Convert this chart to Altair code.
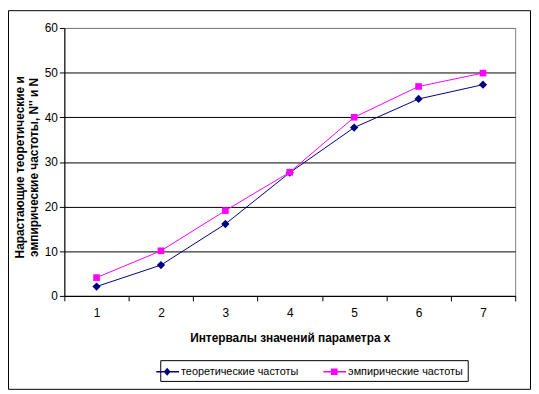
import altair as alt
import pandas as pd

intervals = ["1", "2", "3", "4", "5", "6", "7"]
theoretical = [2.1, 6.9, 16.1, 27.6, 37.7, 44.1, 47.3]
empirical = [4.1, 10.1, 19.1, 27.7, 40.0, 46.9, 49.9]
series_names = ["теоретические частоты", "эмпирические частоты"]
series_colors = ["#000080", "#FF00FF"]
y_ticks = [0, 10, 20, 30, 40, 50, 60]

rows = []
for name, vals in zip(series_names, [theoretical, empirical]):
    for x, v in zip(intervals, vals):
        rows.append({"x": x, "value": v, "series": name})
df = pd.DataFrame(rows)

W, H = 456, 271
PAD = {"left": 57, "top": 18, "right": 16, "bottom": 95}
FONT = "Liberation Sans"

x_enc = alt.X(
    "x:O",
    sort=intervals,
    bandPosition=0.5,
    scale=alt.Scale(type="band", paddingInner=0, paddingOuter=0),
    axis=alt.Axis(
        title="Интервалы значений параметра x",
        labelAngle=0,
        tickBand="extent",
        tickSize=5,
        labelPadding=7,
        titlePadding=14,
        titleFontWeight="bold",
        titleFontSize=12,
        domainColor="black",
        tickColor="black",
        grid=False,
    ),
)
y_enc = alt.Y(
    "value:Q",
    scale=alt.Scale(domain=[0, 60], nice=False),
    axis=alt.Axis(
        values=y_ticks,
        title=["Нарастающие теоретические и", "эмпирические частоты, N'' и N"],
        titleFontWeight="bold",
        titleFontSize=12,
        titleAngle=-90,
        titleX=-45,
        titleY=H / 2 + 5,
        titleAlign="center",
        titleBaseline="middle",
        titleLineHeight=14,
        tickSize=5,
        labelPadding=2,
        domainColor="black",
        tickColor="black",
        grid=True,
        gridColor={"condition": {"test": "datum.value >= 60", "value": "#808080"}, "value": "black"},
        gridWidth=1,
    ),
)
color_enc = alt.Color(
    "series:N",
    scale=alt.Scale(domain=series_names, range=series_colors),
    legend=None,
)

base = alt.Chart(df)
lines = base.mark_line(strokeWidth=1).encode(x=x_enc, y=y_enc, color=color_enc, detail="series:N")
points = base.mark_point(filled=True, opacity=1).encode(
    x=x_enc,
    y=y_enc,
    color=color_enc,
    shape=alt.Shape("series:N", scale=alt.Scale(domain=series_names, range=["diamond", "square"]), legend=None),
    size=alt.Size("series:N", scale=alt.Scale(domain=series_names, range=[70, 45]), legend=None),
)

# legend glyphs: invisible spacer point, thin filled bar (line), marker
legend_paths = [
    "M-3.13,0L-3.13,0Z"
    "M-2.07,-0.09L1,-0.09L1,0.09L-2.07,0.09Z"
    "M-0.6,-0.55L-0.13,0L-0.6,0.55L-1.07,0Z",
    "M-3.13,0L-3.13,0Z"
    "M-2.07,-0.09L1,-0.09L1,0.09L-2.07,0.09Z"
    "M-1.05,-0.45L-0.15,-0.45L-0.15,0.45L-1.05,0.45Z",
]
leg = alt.Legend(title=None)
legend_layer = base.mark_point(filled=True, size=225, opacity=1).encode(
    color=alt.Color("series:N", scale=alt.Scale(domain=series_names, range=series_colors), title=None, legend=leg),
    shape=alt.Shape("series:N", scale=alt.Scale(domain=series_names, range=legend_paths), title=None, legend=leg),
).transform_filter("false")

frame = alt.Chart(pd.DataFrame({"f": [0]})).mark_rect(fill=None, stroke="black", strokeWidth=1).encode(
    x=alt.value(-PAD["left"] + 0.5),
    x2=alt.value(W + PAD["right"] - 0.5),
    y=alt.value(-PAD["top"] + 0.5),
    y2=alt.value(H + PAD["bottom"] - 0.5),
)

chart = (
    alt.layer(frame, lines, points, legend_layer)
    .resolve_scale(shape="independent", size="independent", color="independent")
    .properties(width=W, height=H, padding=PAD, autosize=alt.AutoSizeParams(type="none"), background="white")
    .configure_view(stroke="#808080", strokeWidth=1)
    .configure_axis(labelFont=FONT, titleFont=FONT, labelFontSize=12, labelColor="black", titleColor="black")
    .configure_legend(
        orient="none", legendX=97, legendY=336, direction="horizontal",
        strokeColor="black", fillColor="white", padding=4,
        columnPadding=17, labelOffset=2, symbolSize=225,
        labelFontSize=11, labelFont=FONT, labelColor="black", symbolStrokeWidth=0,
        symbolOpacity=1,
    )
)

chart.save("out.html", embed_options={"renderer": "svg", "actions": False})
